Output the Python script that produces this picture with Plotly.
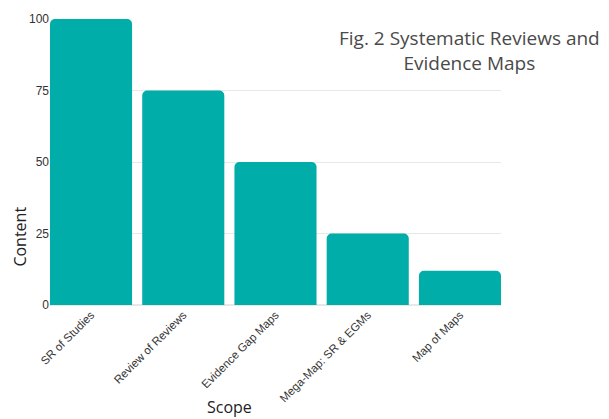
import plotly.graph_objects as go

categories = ["SR of Studies", "Review of Reviews", "Evidence Gap Maps", "Mega-Map: SR & EGMs", "Map of Maps"]
values = [100, 75, 50, 25, 12]
y_ticks = [0, 25, 50, 75, 100]

fig = go.Figure(go.Bar(x=categories, y=values, marker=dict(color="#00ADA9", line=dict(width=0))))

fig.update_layout(
    width=609, height=419,
    margin=dict(l=50, r=108, t=14, b=114),
    plot_bgcolor="white", paper_bgcolor="white",
    bargap=0.11,
    barcornerradius=5,
    showlegend=False,
    font=dict(family="Liberation Sans, Arial", size=12, color="#333"),
)
fig.update_xaxes(
    range=[-0.445, 4.445], tickangle=-45, showgrid=False, showline=False,
    ticks="", tickfont=dict(size=11.5, color="#333"),
)
fig.update_yaxes(
    range=[0, 100], tickvals=y_ticks, showgrid=True, gridcolor="#e8e8e8",
    zeroline=True, zerolinecolor="#e8e8e8", ticks="", showline=False,
    tickfont=dict(size=12, color="#333"),
)
fig.add_annotation(
    text="Fig. 2 Systematic Reviews and<br>Evidence Maps", xref="paper", yref="paper",
    x=0.931, y=0.985, xanchor="center", yanchor="top", showarrow=False,
    font=dict(family="Open Sans", size=19, color="#4a4a4a"), align="center",
)
fig.add_annotation(
    text="Content", xref="paper", yref="paper", x=-0.066, y=0.24, xanchor="center",
    yanchor="middle", textangle=-90, showarrow=False,
    font=dict(family="Open Sans", size=16, color="#222"),
)
fig.add_annotation(
    text="Scope", x=1.5, xref="x", yref="paper", y=-0.355, xanchor="center",
    yanchor="middle", showarrow=False,
    font=dict(family="Open Sans", size=16, color="#222"),
)

fig.write_html("out.html")
